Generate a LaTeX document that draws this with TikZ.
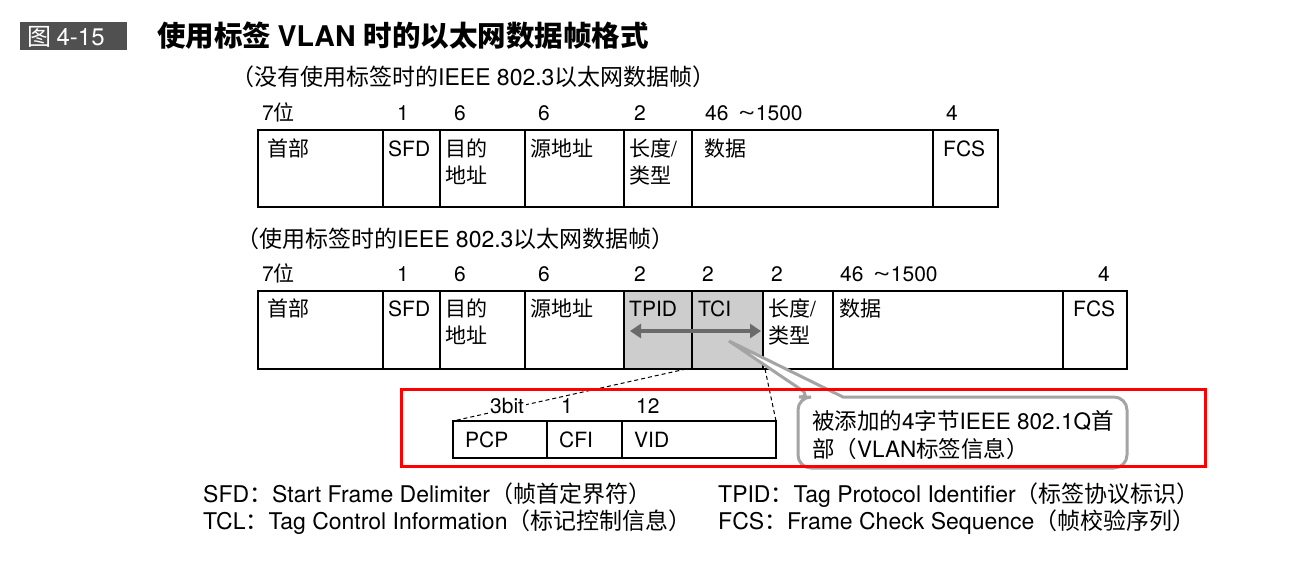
\documentclass[tikz,border=0pt]{standalone}
\usepackage{fontspec}
\usepackage{graphicx}
\setmainfont{TeX Gyre Heros}
\newfontfamily\cjkfont{Noto Sans CJK SC}
\newfontfamily\latfont{TeX Gyre Heros}
\usetikzlibrary{arrows.meta}
\definecolor{titlegray}{HTML}{505050}
\definecolor{taggray}{HTML}{CDCDCD}
\definecolor{arrowgray}{HTML}{6A6A6A}
\definecolor{callgray}{HTML}{A4A4A4}
% automatic switch between Latin and CJK fonts
\XeTeXinterchartokenstate=1
\newXeTeXintercharclass\cjkcls
\newcount\cjkc
\def\cjkrange#1#2{\cjkc=#1\relax
  \loop\XeTeXcharclass\cjkc=\cjkcls\relax\advance\cjkc by 1\relax\ifnum\cjkc<#2\repeat}
\cjkrange{"3000}{"3040}
\cjkrange{"4E00}{"A000}
\cjkrange{"FF00}{"FFF0}
\def\curlat{\latfont}
\XeTeXinterchartoks 0 \cjkcls = {\cjkfont}
\XeTeXinterchartoks 4095 \cjkcls = {\cjkfont}
\XeTeXinterchartoks \cjkcls 0 = {\curlat}
\XeTeXinterchartoks 4095 0 = {\curlat}
\newcommand{\rangetxt}{46\hspace{9pt}\scalebox{1.5}[1]{\textasciitilde}1500}
\begin{document}
\begin{tikzpicture}[x=1pt,y=-1pt,
  txt/.style={anchor=base west,inner sep=0pt,font=\fontsize{21pt}{27pt}\selectfont,align=left},
  subt/.style={anchor=base west,inner sep=0pt,font=\fontsize{23pt}{27pt}\selectfont},
  legend/.style={anchor=base west,inner sep=0pt,font=\fontsize{23pt}{27pt}\selectfont},
  cell/.style={draw,line width=1.3pt,anchor=north west,inner sep=0pt,outer sep=0pt},
  frame/.style={draw,line width=2.4pt},
  dashline/.style={line width=1pt,dash pattern=on 4pt off 3pt},
]
\useasboundingbox (0,0) rectangle (1312,560);
\fill[white] (0,0) rectangle (1312,560);

% title
\node[fill=titlegray,anchor=north west,minimum width=107pt,minimum height=28pt,inner sep=0pt] (tbox) at (20,22) {};
\node[anchor=base west,inner sep=0pt,text=white,font=\fontsize{24pt}{26pt}\selectfont] (tnum) at (27,45) {图 4-15};
\node[anchor=base west,inner sep=0pt,font=\fontsize{28.5pt}{30pt}\selectfont\bfseries] (title) at (157,46) {使用标签 VLAN 时的以太网数据帧格式};

% ---------- frame 1 ----------
\node[subt] (sub1) at (231,85) {（没有使用标签时的IEEE 802.3以太网数据帧）};
\node[txt] (n11) at (262,120) {7位};
\node[txt] (n12) at (397,120) {1};
\node[txt] (n13) at (454,120) {6};
\node[txt] (n14) at (538,120) {6};
\node[txt] (n15) at (634,120) {2};
\node[txt] (n16) at (705,120) {\rangetxt};
\node[txt] (n17) at (946,120) {4};

\node[cell,minimum width=125pt,minimum height=77pt] (a1) at (258,130) {};
\node[cell,minimum width=57pt,minimum height=77pt] (a2) at (383,130) {};
\node[cell,minimum width=85pt,minimum height=77pt] (a3) at (440,130) {};
\node[cell,minimum width=99pt,minimum height=77pt] (a4) at (525,130) {};
\node[cell,minimum width=68pt,minimum height=77pt] (a5) at (624,130) {};
\node[cell,minimum width=241pt,minimum height=77pt] (a6) at (692,130) {};
\node[cell,minimum width=65pt,minimum height=77pt] (a7) at (933,130) {};
\draw[frame] (a1.north west) rectangle (a7.south east);

\node[txt] at (267,156) {首部};
\node[txt] at (388,156) {SFD};
\node[txt] at (445,183) {目的\\地址};
\node[txt] at (530,156) {源地址};
\node[txt] at (629,183) {长度/\\类型};
\node[txt] at (704,156) {数据};
\node[txt] at (943,156) {FCS};

% ---------- frame 2 ----------
\node[subt] (sub2) at (236,247) {（使用标签时的IEEE 802.3以太网数据帧）};
\node[txt] (n21) at (262,281) {7位};
\node[txt] (n22) at (397,281) {1};
\node[txt] (n23) at (454,281) {6};
\node[txt] (n24) at (538,281) {6};
\node[txt] (n25) at (634,281) {2};
\node[txt] (n26) at (702,281) {2};
\node[txt] (n27) at (771,281) {2};
\node[txt] (n28) at (840,281) {\rangetxt};
\node[txt] (n29) at (1098,281) {4};

\node[cell,minimum width=125pt,minimum height=78pt] (b1) at (258,291) {};
\node[cell,minimum width=57pt,minimum height=78pt] (b2) at (383,291) {};
\node[cell,minimum width=85pt,minimum height=78pt] (b3) at (440,291) {};
\node[cell,minimum width=99pt,minimum height=78pt] (b4) at (525,291) {};
\node[cell,fill=taggray,minimum width=68pt,minimum height=78pt] (tpid) at (624,291) {};
\node[cell,fill=taggray,minimum width=71pt,minimum height=78pt] (tci) at (692,291) {};
\node[cell,minimum width=70pt,minimum height=78pt] (b7) at (763,291) {};
\node[cell,minimum width=230pt,minimum height=78pt] (b8) at (833,291) {};
\node[cell,minimum width=64pt,minimum height=78pt] (b9) at (1063,291) {};
\draw[frame] (b1.north west) rectangle (b9.south east);

\node[txt] at (267,316) {首部};
\node[txt] at (388,316) {SFD};
\node[txt] at (445,343) {目的\\地址};
\node[txt] at (530,316) {源地址};
\node[txt] at (629,316) {TPID};
\node[txt] at (698,316) {TCI};
\node[txt] at (768,343) {长度/\\类型};
\node[txt] at (839,316) {数据};
\node[txt] at (1073,316) {FCS};

\coordinate (arL) at (630,331);
\coordinate (arR) at (761,331);
\draw[arrowgray,line width=4.5pt,{Triangle[length=11pt,width=14pt]}-{Triangle[length=11pt,width=14pt]}] (arL) -- (arR);

% ---------- sub frame ----------
\node[cell,minimum width=94pt,minimum height=37pt] (pcp) at (453,421) {};
\node[cell,minimum width=75pt,minimum height=37pt] (cfi) at (547,421) {};
\node[cell,minimum width=154pt,minimum height=37pt] (vid) at (622,421) {};
\draw[frame] (pcp.north west) rectangle (vid.south east);
\node[txt] at (465,447) {PCP};
\node[txt] at (559,447) {CFI};
\node[txt] at (634,447) {VID};

\draw[dashline] (tci.south west) ++(-6,0) coordinate (dl) -- (pcp.north west);
\draw[dashline] (tci.south east) ++(2,0) coordinate (dr) -- (vid.north east);

\node[txt,fill=white,inner xsep=2pt] (s1) at (488,413) {3bit};
\node[txt] (s2) at (561,413) {1};
\node[txt] (s3) at (636,413) {12};

% ---------- callout ----------
\coordinate (tip) at (729,341);
\draw[callgray,line width=3pt,fill=white,rounded corners=13pt]
  (843,397) -- (1127,397) -- (1127,468) -- (798,468) -- (798,397) -- (812,397)
  [sharp corners] -- (tip) -- cycle;
\node[txt,font=\fontsize{22.5pt}{28pt}\selectfont] (callt) at (812,457) {被添加的4字节IEEE 802.1Q首\\部（VLAN标签信息）};

% red highlight
\draw[red,line width=3pt] (401,389) rectangle (1205,466);

% ---------- legend ----------
\node[legend] (l1) at (203,502) {SFD：Start Frame Delimiter（帧首定界符）};
\node[legend] (l2) at (718,502) {TPID：Tag Protocol Identifier（标签协议标识）};
\node[legend] (l3) at (203,529) {TCL：Tag Control Information（标记控制信息）};
\node[legend] (l4) at (718,529) {FCS：Frame Check Sequence（帧校验序列）};
\end{tikzpicture}
\end{document}
